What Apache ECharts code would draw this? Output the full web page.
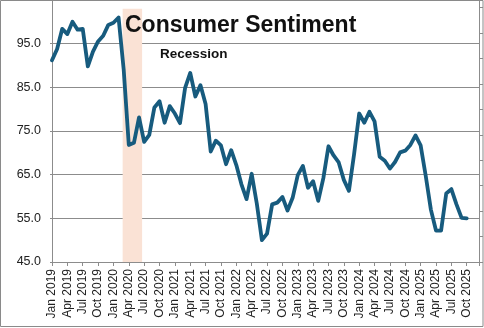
<!DOCTYPE html>
<html>
<head>
<meta charset="utf-8">
<script src="https://cdn.jsdelivr.net/npm/echarts@6/dist/echarts.min.js"></script>
<style>
html,body{margin:0;padding:0;background:#fff;}
#chart{width:484px;height:328px;}
</style>
</head>
<body>
<div id="chart"></div>
<script>
// Monthly index, Jan 2019 .. Oct 2025
var sentiment = [
  91.2, 93.8, 98.4, 97.2, 100.0, 98.2, 98.4, 89.8, 93.2, 95.5, 96.8, 99.3,
  99.8, 101.0, 89.1, 71.8, 72.3, 78.1, 72.5, 74.1, 80.4, 81.8, 76.9, 80.7,
  79.0, 76.8, 84.9, 88.3, 82.9, 85.5, 81.2, 70.3, 72.8, 71.7, 67.4, 70.6,
  67.2, 62.8, 59.4, 65.2, 58.4, 50.0, 51.5, 58.2, 58.6, 59.9, 56.8, 59.7,
  64.9, 67.0, 62.0, 63.5, 59.0, 64.2, 71.5, 69.4, 67.8, 63.8, 61.3, 69.7,
  79.0, 76.9, 79.4, 77.2, 69.1, 68.2, 66.4, 67.9, 70.1, 70.5, 71.8, 74.0,
  71.7, 64.7, 57.0, 52.2, 52.2, 60.7, 61.7, 58.2, 55.1, 55.0
];
var tickLabels = [
  'Jan 2019','Apr 2019','Jul 2019','Oct 2019',
  'Jan 2020','Apr 2020','Jul 2020','Oct 2020',
  'Jan 2021','Apr 2021','Jul 2021','Oct 2021',
  'Jan 2022','Apr 2022','Jul 2022','Oct 2022',
  'Jan 2023','Apr 2023','Jul 2023','Oct 2023',
  'Jan 2024','Apr 2024','Jul 2024','Oct 2024',
  'Jan 2025','Apr 2025','Jul 2025','Oct 2025'
];
var yTicks = [45, 55, 65, 75, 85, 95];
// recession shading, in months since Jan 2019
var recessionFrom = 13.8;
var recessionTo = 17.6;
var recessionTop = 103;
var titleText = 'Consumer Sentiment';
var recessionLabel = 'Recession';

var FONT = "'Liberation Sans', Arial, sans-serif";
var chart = echarts.init(document.getElementById('chart'), null, {renderer:'canvas'});
var pts = sentiment.map(function(v, i){ return [i, v]; });

chart.setOption({
  animation: false,
  backgroundColor: '#fff',
  title: {
    text: titleText, left: 125, top: 14, padding: 0,
    textStyle: {fontFamily: FONT, fontSize: 23, fontWeight: 'bold', color: '#111'}
  },
  graphic: [
    {type:'text', left: 160, top: 47, z: 100,
     style:{text: recessionLabel, font: "bold 13.5px " + FONT, fill:'#111'}},
    {type:'rect', shape:{x:0.5, y:0.5, width:482.5, height:326}, z: 100,
     style:{fill:'none', stroke:'#8a8a8a', lineWidth:1}}
  ],
  grid: {left: 52, right: 5, top: 0, bottom: 66, containLabel: false},
  xAxis: {
    type: 'value', min: 0, max: 83.4, interval: 3,
    axisLine: {show: true, lineStyle: {color: '#8c8c8c', width: 1}},
    axisTick: {show: true, length: 4, lineStyle: {color: '#8c8c8c'}},
    splitLine: {show: false},
    axisLabel: {
      rotate: 90, margin: 7, fontFamily: FONT, fontSize: 12, color: '#222',
      formatter: function(v){ return (v % 3 === 0 && tickLabels[v/3]) ? tickLabels[v/3] : ''; }
    }
  },
  yAxis: [{
    type: 'value', min: 45, max: 105, interval: 10,
    axisLine: {show: true, lineStyle: {color: '#8c8c8c', width: 1}},
    axisTick: {show: true, length: 2, lineStyle: {color: '#8c8c8c'}},
    splitLine: {show: true, lineStyle: {color: '#8c8c8c', width: 1}},
    axisLabel: {
      margin: 11, fontFamily: FONT, fontSize: 12.5, color: '#222',
      formatter: function(v){ return yTicks.indexOf(v) >= 0 ? v.toFixed(1) : ''; }
    }
  }, {
    type: 'value', position: 'right', min: 0, max: 10.3, interval: 1,
    axisLine: {show: true, lineStyle: {color: '#8c8c8c', width: 1}},
    axisTick: {show: true, length: 4, lineStyle: {color: '#8c8c8c'}},
    splitLine: {show: false},
    axisLabel: {show: false}
  }],
  series: [{
    type: 'line', data: pts, yAxisIndex: 0,
    showSymbol: false, symbol: 'none', smooth: false,
    lineStyle: {color: '#175b7e', width: 3.8, cap: 'round', join: 'round'},
    z: 5,
    markArea: {
      silent: true,
      itemStyle: {color: '#fae2d5'},
      data: [[{xAxis: recessionFrom, yAxis: 45}, {xAxis: recessionTo, yAxis: recessionTop}]]
    }
  }]
});
</script>
</body>
</html>
